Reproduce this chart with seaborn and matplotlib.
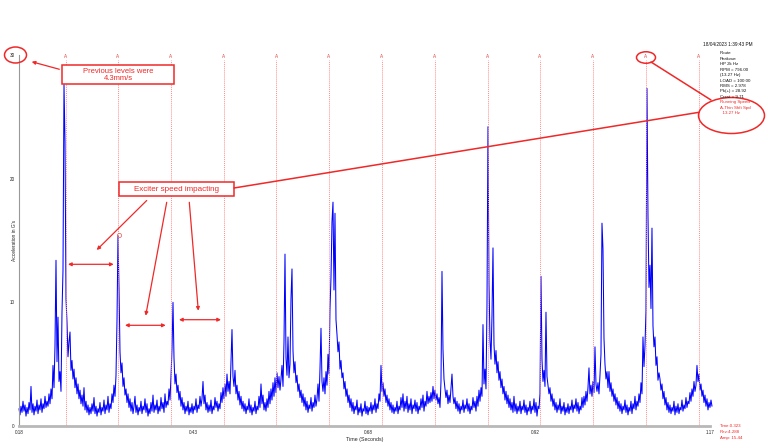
import numpy as np
import seaborn as sns
import matplotlib.pyplot as plt
from matplotlib.patches import Ellipse, Rectangle

# waveform samples (G's), one sample per ~1.43 ms
wave_a = [1.4, 0.9, 1.6, 1.1, 2.0, 1.2, 1.7, 0.8, 1.5, 1.0,
          1.9, 1.3, 3.2, 1.1, 1.8, 0.9, 1.6, 1.2, 2.1, 1.0,
          1.7, 1.3, 2.2, 1.1, 1.8, 1.4, 2.4, 1.5, 2.0, 1.6,
          2.6, 1.8, 3.0, 2.2, 4.9, 3.1, 6.5, 13.4, 5.2, 8.8,
          3.6, 4.4, 2.8, 9.2, 12.6, 27.6, 23.0]
wave_b = [10.3, 8.4, 5.6, 6.8, 7.6, 4.5, 5.3, 3.8, 4.6, 3.1,
          3.9, 2.6, 3.4, 2.2, 2.9, 1.8, 2.5, 1.6, 3.1, 1.3,
          2.0, 1.1, 1.7, 0.9, 1.5, 1.0, 1.8, 1.2, 2.3, 1.0,
          1.6, 0.8, 1.4, 1.1, 1.9, 0.9, 1.5, 1.2, 2.1, 1.0,
          1.7, 1.3, 2.4, 1.1, 1.8, 1.4, 2.6, 1.9, 3.3, 2.4,
          4.1, 8.5, 15.4]
wave_c = [11.2, 6.0, 4.3, 5.1, 3.2, 3.9, 2.5, 3.0, 1.9, 2.6,
          1.5, 2.2, 1.2, 1.9, 1.0, 1.6, 2.4, 1.1, 1.7, 0.9,
          1.5, 1.2, 2.0, 1.0, 1.6, 1.3, 2.2, 1.1, 1.8, 0.8,
          1.4, 1.0, 1.9, 1.2, 2.5, 1.1, 1.7, 1.3, 2.1, 1.0,
          1.6, 1.2, 2.3, 1.4, 1.9, 1.1, 2.6, 1.5, 2.0, 1.7,
          3.0, 2.1, 4.0]
wave_d = [6.2, 10.0, 5.5, 3.4, 4.2, 2.7, 3.3, 2.1, 2.8, 1.6,
          2.3, 1.3, 1.9, 1.0, 1.6, 1.2, 2.0, 0.9, 1.5, 1.1,
          1.8, 1.0, 1.6, 1.3, 2.2, 1.1, 1.7, 1.4, 2.4, 1.6,
          2.2, 3.6, 1.8, 2.5, 1.3, 1.9, 1.1, 1.7, 1.2, 2.1,
          1.0, 1.6, 1.3, 2.3, 1.5, 2.0, 1.2, 1.8, 1.4, 2.7,
          1.9, 3.1, 2.2]
wave_e = [3.4, 2.4, 4.2, 2.8, 3.6, 2.6, 5.1, 7.8, 4.0, 3.2,
          4.5, 2.6, 3.3, 2.1, 2.8, 1.7, 2.4, 1.4, 2.0, 1.2,
          1.8, 1.0, 1.6, 1.3, 2.2, 1.1, 1.7, 0.9, 1.5, 1.2,
          2.0, 1.0, 1.6, 1.3, 2.4, 1.5, 3.4, 1.8, 2.5, 1.3,
          1.9, 1.2, 2.2, 1.5, 2.8, 1.8, 3.0, 2.1, 3.5, 2.4,
          3.9, 2.7, 4.3]
wave_f = [3.1, 4.0, 2.9, 3.8, 4.9, 3.2, 6.8, 13.9, 5.5, 4.1,
          7.2, 3.9, 5.0, 10.3, 12.7, 6.1, 4.3, 5.2, 3.5, 4.1,
          2.8, 3.4, 2.3, 2.9, 1.9, 2.6, 1.6, 2.3, 1.3, 2.0,
          1.1, 1.7, 1.4, 2.3, 1.2, 1.9, 1.5, 2.5, 1.6, 2.2,
          3.4, 2.0, 4.6, 7.9, 3.6, 2.8, 3.9, 2.6, 4.4, 3.3,
          5.8, 4.2, 9.5]
wave_g = [12.0, 16.5, 18.1, 11.0, 17.2, 8.6, 7.4, 6.0, 6.8, 4.6,
          5.3, 3.9, 4.3, 3.0, 3.6, 2.4, 3.0, 1.9, 2.5, 1.5,
          2.2, 1.2, 1.9, 1.0, 1.6, 1.3, 2.1, 0.9, 1.5, 1.1,
          1.8, 0.8, 1.4, 1.2, 2.0, 1.0, 1.6, 0.9, 1.5, 1.2,
          1.9, 1.0, 1.7, 1.3, 2.2, 1.1, 1.8, 1.4, 2.6, 2.0,
          4.9, 2.8, 3.5]
wave_h = [2.4, 3.0, 1.9, 2.5, 1.6, 2.2, 1.3, 1.9, 1.1, 1.7,
          1.0, 1.5, 1.2, 2.0, 1.0, 1.6, 1.3, 2.3, 1.5, 2.6,
          1.2, 2.0, 1.4, 2.4, 1.1, 1.8, 1.3, 2.2, 1.0, 1.7,
          1.4, 2.1, 1.2, 1.9, 1.0, 1.6, 1.3, 2.2, 1.5, 2.5,
          1.2, 2.0, 1.6, 2.8, 1.8, 2.4, 1.9, 2.7, 2.0, 3.2,
          2.2, 2.9, 2.1]
wave_i = [2.6, 1.8, 2.3, 1.5, 3.6, 12.5, 6.2, 3.8, 3.0, 2.3,
          2.9, 1.8, 2.5, 1.9, 3.1, 4.2, 2.4, 1.8, 2.3, 1.4,
          2.0, 1.2, 1.8, 1.0, 1.6, 1.3, 2.1, 1.1, 1.7, 1.4,
          2.2, 1.2, 1.8, 1.0, 1.6, 1.3, 2.3, 1.5, 2.0, 1.2,
          2.4, 1.6, 2.9, 2.0, 3.1, 2.4, 8.2, 3.4, 4.6, 3.0,
          9.8, 24.2, 11.5]
wave_j = [7.0, 5.4, 8.9, 14.4, 6.6, 5.0, 6.1, 4.3, 5.2, 3.7,
          4.4, 3.1, 3.8, 2.6, 3.2, 2.1, 2.8, 1.8, 2.5, 1.5,
          2.2, 1.3, 1.9, 1.1, 2.4, 1.2, 1.8, 1.0, 1.6, 1.2,
          2.0, 1.0, 1.6, 1.3, 2.1, 1.1, 1.7, 0.9, 1.5, 1.2,
          2.0, 1.0, 1.6, 1.3, 2.2, 1.1, 1.9, 0.8, 1.6, 1.4,
          2.6, 12.1]
wave_k = [5.4, 3.6, 4.5, 3.2, 9.2, 4.0, 3.3, 2.6, 3.1, 2.0,
          2.6, 1.6, 2.2, 1.3, 1.9, 1.1, 1.7, 1.3, 2.2, 1.0,
          1.6, 1.2, 1.9, 0.9, 1.5, 1.1, 1.8, 1.0, 1.6, 1.3,
          2.1, 1.1, 1.7, 1.4, 2.2, 1.2, 1.9, 1.0, 1.6, 1.3,
          2.3, 1.5, 2.4, 1.7, 2.8, 2.0, 3.1, 4.7, 2.6, 3.3,
          2.4, 3.6, 2.7]
wave_l = [6.4, 3.4, 2.8, 3.5, 2.6, 4.1, 5.8, 16.4, 14.3, 7.1,
          5.0, 3.8, 4.4, 3.1, 4.4, 2.8, 3.5, 2.4, 3.0, 2.0,
          2.6, 1.7, 2.3, 1.4, 2.0, 1.2, 1.8, 1.0, 1.6, 1.3,
          2.1, 1.1, 1.7, 0.9, 1.5, 1.2, 2.0, 1.0, 1.8, 1.4,
          2.4, 1.3, 2.0, 1.6, 2.6, 1.9, 3.5, 2.6, 7.2, 4.8,
          6.5, 9.3, 27.3]
wave_m = [17.0, 11.2, 13.0, 9.5, 16.0, 8.1, 6.4, 7.2, 4.9, 5.6,
          3.7, 4.3, 3.8, 2.9, 3.4, 2.2, 2.8, 1.7, 2.3, 1.3,
          1.9, 1.1, 1.7, 1.0, 1.5, 1.2, 2.0, 0.9, 1.6, 1.1,
          1.8, 1.0, 1.5, 1.3, 2.1, 1.2, 1.7, 1.4, 2.3, 1.5,
          2.0, 1.8, 2.7, 2.0, 3.0, 2.4, 3.6, 2.8, 3.3, 4.9,
          3.6, 4.2]
wave_n = [2.9, 3.4, 2.4, 2.9, 1.9, 2.5, 1.6, 2.2, 1.3, 1.9, 1.5, 2.1, 1.6]

start_time = 0.18
sample_rate = 698  # samples per second
# running speed markers ("A" = 13.27 Hz shaft)
marker_times = [0.2469, 0.3218, 0.3977, 0.4736, 0.5489, 0.6235, 0.6995,
                0.7754, 0.8513, 0.9258, 1.0017, 1.0776, 1.1536]
cursor_time, cursor_amp = 0.323, 15.44

xticks = [0.18, 0.43, 0.68, 0.92, 1.17]
xtick_labels = ["0.18", "0.43", "0.68", "0.92", "1.17"]
yticks = [0, 10, 20, 30]

info_lines = ["Route", "Peakvue", "HP 2k Hz", "RPM = 796.00", "(13.27 Hz)",
              "LOAD = 100.00", "RMS = 2.978", "Pk(+) = 28.92", "Crest = 9.71"]
speed_lines = ["Running Speed", "A-Thin Shft Spd", "  13.27 Hz"]
cursor_lines = ["Time:0.323", "Rev:4.288", "Amp: 15.44"]

amp = np.array(wave_a + wave_b + wave_c + wave_d + wave_e + wave_f + wave_g
               + wave_h + wave_i + wave_j + wave_k + wave_l + wave_m + wave_n)
time = start_time + np.arange(len(amp)) / sample_rate

sns.set_style("white")
plt.rcParams['font.family'] = ['Liberation Sans', 'DejaVu Sans']
red = '#f02828'

fig = plt.figure(figsize=(7.68, 4.48), dpi=100)
ax = fig.add_axes([19/768, 1 - 426/448, (710 - 19)/768, (426 - 55)/448])

sns.lineplot(x=time, y=amp, ax=ax, color='#0000ff', linewidth=0.75, estimator=None)
for ln in ax.lines:
    ln.set_clip_on(False)

ax.vlines(marker_times, 0, 29.6, colors='#ff8c8c', linestyles=(0, (1, 1)), linewidth=0.7)
for t in marker_times:
    ax.text(t, 29.9, 'A', ha='center', va='center', fontsize=3.3, color='#e04040')
ax.plot(cursor_time, cursor_amp, 'o', mfc='none', mec='#e07070', ms=3, mew=0.6)

ax.set_xlim(0.18, 1.17)
ax.set_ylim(0, 30)
ax.set_xticks(xticks)
ax.set_xticklabels(xtick_labels)
ax.set_yticks(yticks)
ax.tick_params(labelsize=3.3, length=2, width=0.5, color='#666666', pad=1)
ax.set_xlabel('Time (Seconds)', fontsize=3.8, labelpad=1.5)
ax.set_ylabel("Acceleration in G's", fontsize=3.5)
ax.yaxis.set_label_coords(-0.003, 0.5)
ax.spines['top'].set_visible(False)
ax.spines['right'].set_visible(False)
ax.spines['left'].set_color('#999999')
ax.spines['left'].set_linewidth(0.8)
ax.spines['bottom'].set_color('#b8b8b8')
ax.spines['bottom'].set_linewidth(2.0)

# callouts drawn on top, in pixel coordinates of the image
ov = fig.add_axes([0, 0, 1, 1], zorder=5)
ov.set_xlim(0, 768)
ov.set_ylim(448, 0)
ov.axis('off')
ov.patch.set_alpha(0)

ov.add_patch(Ellipse((15.5, 55), 22, 16, fill=False, ec=red, lw=1.1))
ov.annotate('', xy=(29, 61), xytext=(62, 70),
            arrowprops=dict(arrowstyle='-|>', color=red, lw=0.9, mutation_scale=5))
ov.add_patch(Rectangle((61.7, 65), 112.6, 19.3, fc='white', ec=red, lw=1.1))
ov.text(118, 75, 'Previous levels were\n4.3mm/s', ha='center', va='center',
        fontsize=5.5, color=red, linespacing=1.05)

ov.add_patch(Rectangle((119, 182.3), 115, 13.4, fc='white', ec=red, lw=1.1))
ov.text(176.5, 189.3, 'Exciter speed impacting', ha='center', va='center',
        fontsize=5.8, color=red)
for x0, y0, x1, y1 in [(146.7, 200.5, 96.7, 250), (166.7, 202.3, 145.7, 315.7),
                       (189.3, 202.3, 198.3, 310.7)]:
    ov.annotate('', xy=(x1, y1), xytext=(x0, y0),
                arrowprops=dict(arrowstyle='-|>', color=red, lw=0.9, mutation_scale=5,
                                shrinkA=0, shrinkB=0))
for x0, x1, y in [(68, 113.7, 264.3), (125, 165.7, 325.3), (179, 221, 319.7)]:
    ov.annotate('', xy=(x1, y), xytext=(x0, y),
                arrowprops=dict(arrowstyle='<|-|>', color=red, lw=0.9, mutation_scale=5,
                                shrinkA=0, shrinkB=0))
ov.plot([234, 699], [188, 112.3], color=red, lw=1.1)

ov.add_patch(Ellipse((646, 57.5), 19, 11.5, fill=False, ec=red, lw=1.1))
ov.plot([651, 711], [62, 100], color=red, lw=1.1)
ov.add_patch(Ellipse((731.5, 115.5), 66, 36, fill=False, ec=red, lw=1.1))

ov.text(703, 44.5, '18/04/2023 1:39:43 PM', fontsize=3.4, va='center', color='#111111')
for k, s in enumerate(info_lines):
    ov.text(719.5, 53.3 + 5.45 * k, s, fontsize=3.2, va='center', color='#111111')
for k, s in enumerate(speed_lines):
    ov.text(719.5, 53.3 + 5.45 * (k + len(info_lines)), s, fontsize=3.2,
            va='center', color=red)
for k, s in enumerate(cursor_lines):
    ov.text(720, 426 + 6.2 * k, s, fontsize=3.2, va='center', color=red)

fig.savefig('out.png', dpi=100)
